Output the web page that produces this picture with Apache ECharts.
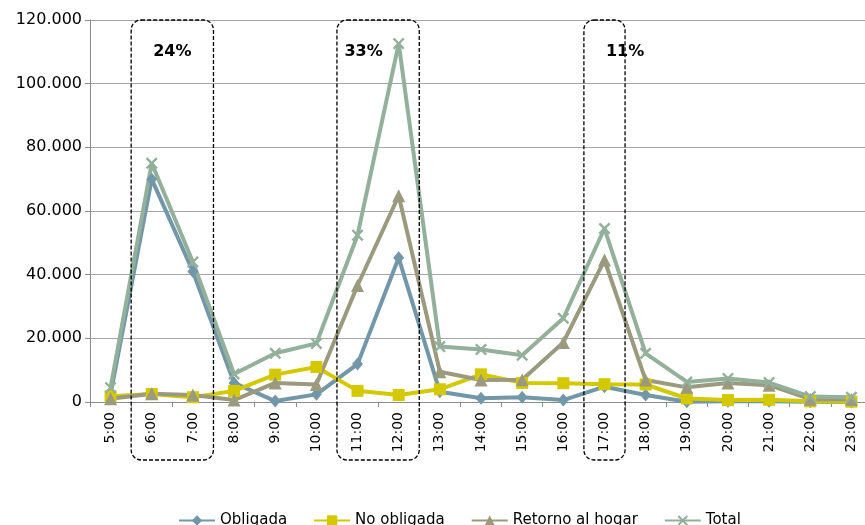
<!DOCTYPE html>
<html>
<head>
<meta charset="utf-8">
<script src="https://cdn.jsdelivr.net/npm/echarts@6/dist/echarts.min.js"></script>
<style>
  html, body { margin: 0; padding: 0; background: #ffffff; overflow: hidden; }
  /* the plot runs a few pixels past the right edge of the window */
  #chart { width: 872px; height: 525px; }
</style>
</head>
<body>
<div id="chart"></div>
<script>
// Hourly trips by purpose
const hours = ['5:00','6:00','7:00','8:00','9:00','10:00','11:00','12:00','13:00','14:00',
               '15:00','16:00','17:00','18:00','19:00','20:00','21:00','22:00','23:00'];
const obligada     = [2500, 70000, 41000, 6000, 300, 2400, 11900, 45300, 3200, 1150, 1500, 600, 4800, 2200, 100, 200, 200, 100, 0];
const noObligada   = [1800, 2500, 1500, 3500, 8600, 11000, 3500, 2200, 4000, 8700, 6000, 5900, 5600, 5500, 1100, 600, 700, 200, 100];
const retornoHogar = [1000, 2600, 2200, 600, 6000, 5500, 36600, 64800, 9500, 6900, 7000, 18700, 44600, 6900, 4600, 6000, 5300, 900, 800];
const total        = [4500, 75000, 44000, 8800, 15300, 18400, 52400, 112600, 17400, 16500, 14700, 26300, 54500, 15300, 6300, 7400, 6100, 1700, 1500];

// Peak windows: first and last hour of each, with its share of daily trips
const peaks = [
  { from: '6:00',  to: '7:00',  share: '24%' },
  { from: '11:00', to: '12:00', share: '33%' },
  { from: '17:00', to: '17:00', share: '11%' }
];

const yMax = 120000;
const yStep = 20000;

const crossSymbol = 'path://M0,1.4L1.4,0L5,3.6L8.6,0L10,1.4L6.4,5L10,8.6L8.6,10L5,6.4L1.4,10L0,8.6L3.6,5Z';

const font = 'DejaVu Sans';
const chart = echarts.init(document.getElementById('chart'), null, { renderer: 'canvas' });

function fmt(v) {
  return String(v).replace(/\B(?=(\d{3})+(?!\d))/g, '.');
}

function lineSeries(name, data, color, symbol, size) {
  return {
    name: name,
    type: 'line',
    data: data,
    symbol: symbol,
    symbolSize: size,
    showAllSymbol: true,
    lineStyle: { color: color, width: 4 },
    itemStyle: { color: color },
    emphasis: { disabled: true }
  };
}

chart.setOption({
  animation: false,
  backgroundColor: '#ffffff',
  textStyle: { fontFamily: font },
  grid: { left: 90, right: 0, top: 20, bottom: 123, containLabel: false },
  legend: {
    left: 173,
    top: 508,
    itemWidth: 36,
    itemHeight: 13,
    itemGap: 26,
    textStyle: { fontFamily: font, fontSize: 15, color: '#000000' },
    data: ['Obligada', 'No obligada', 'Retorno al hogar', 'Total']
  },
  xAxis: {
    type: 'category',
    data: hours,
    boundaryGap: true,
    axisLine: { lineStyle: { color: '#8c8c8c', width: 1 } },
    axisTick: { show: true, interval: 0, length: 5, lineStyle: { color: '#8c8c8c' } },
    axisLabel: { interval: 0, rotate: 90, margin: 10, fontFamily: font, fontSize: 14, color: '#000000' }
  },
  yAxis: {
    type: 'value',
    min: 0,
    max: yMax,
    interval: yStep,
    axisLine: { show: true, lineStyle: { color: '#8c8c8c', width: 1 } },
    axisTick: { show: true, length: 5, lineStyle: { color: '#8c8c8c' } },
    axisLabel: { margin: 8, fontFamily: font, fontSize: 16, color: '#000000', formatter: fmt },
    splitLine: { show: true, lineStyle: { color: '#a6a6a6', width: 1 } }
  },
  series: [
    lineSeries('Obligada', obligada, '#7297a8', 'diamond', [11, 13]),
    lineSeries('No obligada', noObligada, '#d4c800', 'rect', 12),
    lineSeries('Retorno al hogar', retornoHogar, '#9b9a7e', 'triangle', [13, 13]),
    lineSeries('Total', total, '#92b09a', crossSymbol, 12)
  ]
});

// Dashed rounded boxes around the peak hours, built from the category axis
const c0 = chart.convertToPixel({ xAxisIndex: 0 }, 0);
const c1 = chart.convertToPixel({ xAxisIndex: 0 }, 1);
const band = c1 - c0;
const yTop = chart.convertToPixel({ yAxisIndex: 0 }, yMax);
const yBottom = chart.convertToPixel({ yAxisIndex: 0 }, 0) + 58;

const graphics = [];
peaks.forEach(function (p, i) {
  const xa = chart.convertToPixel({ xAxisIndex: 0 }, hours.indexOf(p.from)) - band / 2;
  const xb = chart.convertToPixel({ xAxisIndex: 0 }, hours.indexOf(p.to)) + band / 2;
  graphics.push({
    type: 'rect',
    shape: { x: xa, y: yTop, width: xb - xa, height: yBottom - yTop, r: 10 },
    style: { fill: 'none', stroke: '#000000', lineWidth: 1.3, lineDash: [4, 2] },
    z: 10
  });
  // label anchor: centred for the first window, shifted for the others
  let tx;
  if (i === 0) tx = (xa + xb) / 2;
  else if (i === 1) tx = xa + band / 2 + 6;
  else tx = xb;
  graphics.push({
    type: 'text',
    x: tx,
    y: yTop + 32,
    style: {
      text: p.share,
      fontFamily: font,
      fontWeight: 'bold',
      fontSize: 16,
      fill: '#000000',
      align: 'center',
      verticalAlign: 'middle'
    },
    z: 11
  });
});
chart.setOption({ graphic: graphics });
</script>
</body>
</html>
